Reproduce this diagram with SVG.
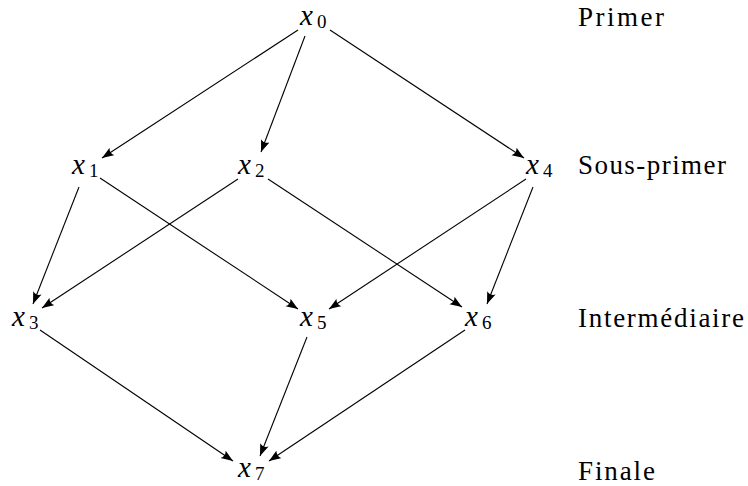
<svg xmlns="http://www.w3.org/2000/svg" width="748" height="486" viewBox="0 0 748 486">
<defs>
<marker id="ah" markerUnits="userSpaceOnUse" markerWidth="13" markerHeight="10" refX="12" refY="4.5" orient="auto">
<path d="M0,0 Q3.5,4.5 0,9 L12,4.5 Z" fill="#000"/>
</marker>
<style>
.bg{fill:#fff}
.e{stroke:#000;stroke-width:1.1;fill:none;marker-end:url(#ah)}
.v{font-style:italic;font-size:29px;fill:#000}
.s{font-size:19px;fill:#000}
.lab{font-size:27px;fill:#000}
</style>
</defs>
<rect class="bg" x="0" y="0" width="748" height="486"/>
<g id="edges">
<line class="e" x1="298" y1="30" x2="102" y2="158"/>
<line class="e" x1="305" y1="36" x2="261" y2="152"/>
<line class="e" x1="330" y1="30" x2="524" y2="158"/>
<line class="e" x1="79" y1="187" x2="33" y2="304"/>
<line class="e" x1="100" y1="178" x2="298" y2="309"/>
<line class="e" x1="238" y1="179" x2="42" y2="308"/>
<line class="e" x1="268" y1="179" x2="462" y2="307"/>
<line class="e" x1="526" y1="179" x2="329" y2="309"/>
<line class="e" x1="533" y1="187" x2="487" y2="304"/>
<line class="e" x1="40" y1="330" x2="233" y2="461"/>
<line class="e" x1="307" y1="337" x2="260" y2="456"/>
<line class="e" x1="465" y1="330" x2="269" y2="461"/>
</g>
<g font-family="Liberation Serif, serif">
<g id="x0"><text class="v" x="300" y="25">x</text><text class="s" x="317" y="28">0</text></g>
<g id="x1"><text class="v" x="72" y="174">x</text><text class="s" x="89" y="177">1</text></g>
<g id="x2"><text class="v" x="238" y="174">x</text><text class="s" x="255" y="177">2</text></g>
<g id="x4"><text class="v" x="526" y="174">x</text><text class="s" x="543" y="177">4</text></g>
<g id="x3"><text class="v" x="12" y="326">x</text><text class="s" x="29" y="329">3</text></g>
<g id="x5"><text class="v" x="300" y="326">x</text><text class="s" x="317" y="329">5</text></g>
<g id="x6"><text class="v" x="465" y="326">x</text><text class="s" x="482" y="329">6</text></g>
<g id="x7"><text class="v" x="238" y="477">x</text><text class="s" x="255" y="480">7</text></g>
</g>
<g id="labels" font-family="Liberation Serif, serif">
<text class="lab" x="578" y="26" textLength="86" lengthAdjust="spacing">Primer</text>
<text class="lab" x="578" y="174" textLength="148" lengthAdjust="spacing">Sous-primer</text>
<text class="lab" x="578" y="327" textLength="166" lengthAdjust="spacing">Intermédiaire</text>
<text class="lab" x="578" y="480" textLength="77" lengthAdjust="spacing">Finale</text>
</g>
</svg>
